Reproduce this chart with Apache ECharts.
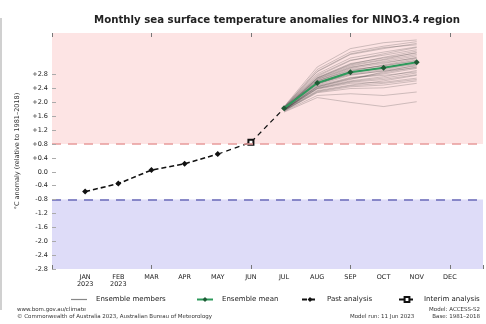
<!DOCTYPE html>
<html>
<head>
<meta charset="utf-8">
<script src="https://cdn.jsdelivr.net/npm/echarts@6/dist/echarts.min.js"></script>
<style>
  html, body { margin: 0; padding: 0; background: #fff; }
  #chart { width: 486px; height: 324px; }
</style>
</head>
<body>
<div id="chart"></div>
<script>
// Axis categories (blank slots pad both ends of the time axis)
const CATEGORIES = ['', 'JAN\n2023', 'FEB\n2023', 'MAR', 'APR', 'MAY', 'JUN', 'JUL', 'AUG', 'SEP', 'OCT', 'NOV', 'DEC', ''];
// Observed monthly anomalies, JAN..MAY
const PAST_MONTHS = ['JAN\n2023', 'FEB\n2023', 'MAR', 'APR', 'MAY'];
const PAST_VALUES = [-0.57, -0.34, 0.05, 0.23, 0.51];
// Interim (preliminary) value for JUN
const INTERIM_MONTH = 'JUN';
const INTERIM_VALUE = 0.85;
// Forecast months and ensemble mean
const FORECAST_MONTHS = ['JUL', 'AUG', 'SEP', 'OCT', 'NOV'];
const MEAN_VALUES = [1.83, 2.56, 2.87, 3.00, 3.16];
// Individual ensemble members, JUL..NOV
const MEMBERS = [
  [1.86, 2.95, 3.45, 3.62, 3.75],
  [1.84, 2.88, 3.38, 3.55, 3.70],
  [1.80, 2.70, 3.10, 3.30, 3.48],
  [1.78, 2.45, 2.70, 2.85, 3.02],
  [1.82, 2.60, 2.95, 3.05, 3.20],
  [1.76, 2.30, 2.45, 2.50, 2.62],
  [1.85, 2.75, 3.20, 3.40, 3.58],
  [1.81, 2.55, 2.82, 2.95, 3.10],
  [1.79, 2.40, 2.60, 2.70, 2.85],
  [1.88, 3.02, 3.55, 3.72, 3.80],
  [1.74, 2.20, 2.25, 2.20, 2.30],
  [1.83, 2.65, 3.00, 3.18, 3.34],
  [1.80, 2.50, 2.78, 2.92, 3.05],
  [1.77, 2.38, 2.55, 2.58, 2.70],
  [1.84, 2.72, 3.12, 3.28, 3.42],
  [1.82, 2.58, 2.90, 3.08, 3.26],
  [1.79, 2.48, 2.72, 2.78, 2.88],
  [1.72, 2.14, 2.00, 1.88, 2.02],
  [1.86, 2.82, 3.28, 3.45, 3.60],
  [1.81, 2.62, 2.98, 3.12, 3.30],
  [1.78, 2.42, 2.62, 2.74, 2.92],
  [1.83, 2.68, 3.05, 3.22, 3.38],
  [1.80, 2.52, 2.85, 3.00, 3.15],
  [1.75, 2.28, 2.40, 2.42, 2.55],
  [1.87, 2.90, 3.40, 3.58, 3.66],
  [1.82, 2.56, 2.88, 2.98, 3.12],
  [1.79, 2.46, 2.68, 2.82, 2.98],
  [1.84, 2.70, 3.08, 3.24, 3.44],
  [1.77, 2.34, 2.50, 2.62, 2.78],
  [1.81, 2.54, 2.80, 2.90, 3.00],
  [1.85, 2.78, 3.22, 3.36, 3.52],
  [1.80, 2.44, 2.66, 2.88, 3.08],
  [1.83, 2.62, 2.92, 3.06, 3.22],
  [1.76, 2.32, 2.48, 2.55, 2.66],
  [1.82, 2.66, 3.02, 3.15, 3.28],
  [1.78, 2.40, 2.58, 2.66, 2.80]
];
// El Niño / La Niña thresholds
const WARM_THRESHOLD = 0.8;
const COOL_THRESHOLD = -0.8;
// Labelled y ticks
const Y_TICKS = [-2.8, -2.4, -2.0, -1.6, -1.2, -0.8, -0.4, 0.0, 0.4, 0.8, 1.2, 1.6, 2.0, 2.4, 2.8];
const Y_MIN = -2.8, Y_MAX = 4.0;

const FONT = 'DejaVu Sans, sans-serif';

function fmtY(v) {
  const s = Math.abs(v).toFixed(1);
  if (Math.abs(v) < 1e-9) return '0.0';
  return (v > 0 ? '+' : '-') + s;
}

const memberSeries = MEMBERS.map(m => ({
  name: 'Ensemble members',
  type: 'line',
  data: FORECAST_MONTHS.map((c, i) => [c, m[i]]),
  symbol: 'none',
  silent: true,
  z: 2,
  lineStyle: { color: 'rgba(40,40,40,0.32)', width: 0.7 },
  itemStyle: { color: '#999' }
}));

// quarterly ticks (MAR, JUN, SEP, DEC) on top and bottom edges
const quarterTick = { show: true, inside: true, length: 4, interval: 2, lineStyle: { color: '#777' } };

const chart = echarts.init(document.getElementById('chart'), null, { renderer: 'canvas' });
chart.setOption({
  animation: false,
  backgroundColor: '#fff',
  title: {
    text: 'Monthly sea surface temperature anomalies for NINO3.4 region',
    left: 89, top: 10,
    textStyle: { fontFamily: FONT, fontSize: 10.2, fontWeight: 'bold', color: '#222' }
  },
  grid: { left: 52, right: -13, top: 33, bottom: 55, containLabel: false },
  xAxis: [{
    type: 'category', data: CATEGORIES, boundaryGap: false, position: 'bottom', z: 5,
    axisLine: { show: false, onZero: false },
    axisTick: quarterTick,
    axisLabel: { interval: 0, fontFamily: FONT, fontSize: 6.5, color: '#222', lineHeight: 7, margin: 5 },
    splitLine: { show: false }
  }, {
    type: 'category', data: CATEGORIES, boundaryGap: false, position: 'top', z: 5,
    axisLine: { show: false, onZero: false },
    axisTick: quarterTick,
    axisLabel: { show: false }
  }],
  yAxis: {
    type: 'value', min: Y_MIN, max: Y_MAX, interval: 0.4, z: 5,
    name: '°C anomaly (relative to 1981–2018)', nameLocation: 'middle', nameGap: 31,
    nameRotate: 90,
    nameTextStyle: { fontFamily: FONT, fontSize: 6.5, color: '#333' },
    axisLine: { show: false },
    axisTick: { show: true, inside: true, length: 4, customValues: Y_TICKS, lineStyle: { color: '#aaa' } },
    axisLabel: { customValues: Y_TICKS, formatter: fmtY, fontFamily: FONT, fontSize: 6.5, color: '#222', margin: 4 },
    splitLine: { show: false }
  },
  legend: [
    { data: [{ name: 'Ensemble members', icon: 'rect', itemStyle: { color: '#888' } }], left: 66, top: 291, itemHeight: 1.2 },
    { data: ['Ensemble mean'], left: 191, top: 291 },
    { data: ['Past analysis'], left: 296, top: 291 },
    { data: ['Interim analysis'], left: 393, top: 291 }
  ].map(l => Object.assign({
    itemWidth: 16, itemHeight: 6, itemGap: 0,
    textStyle: { fontFamily: FONT, fontSize: 7, color: '#222', padding: [0, 0, 0, 4] }
  }, l)),
  graphic: [
    { type: 'line', shape: { x1: 1, y1: 18, x2: 1, y2: 310 }, style: { stroke: '#c0c0c0', lineWidth: 1.5 } },
    { type: 'text', left: 17, top: 307, style: { text: 'www.bom.gov.au/climate', fontFamily: FONT, fontSize: 5.5, fill: '#333' } },
    { type: 'text', left: 17, top: 314, style: { text: '© Commonwealth of Australia 2023, Australian Bureau of Meteorology', fontFamily: FONT, fontSize: 5.5, fill: '#333' } },
    { type: 'text', right: 6, top: 307, style: { text: 'Model: ACCESS-S2', fontFamily: FONT, fontSize: 5.5, fill: '#333', align: 'right' } },
    { type: 'text', left: 350, top: 314, style: { text: 'Model run: 11 Jun 2023', fontFamily: FONT, fontSize: 5.5, fill: '#333' } },
    { type: 'text', right: 6, top: 314, style: { text: 'Base: 1981–2018', fontFamily: FONT, fontSize: 5.5, fill: '#333', align: 'right' } }
  ],
  series: [
    {
      // background bands and threshold lines
      name: 'bands', type: 'line', data: [], silent: true, z: 1,
      markArea: {
        silent: true,
        data: [
          [{ yAxis: WARM_THRESHOLD, itemStyle: { color: '#fde4e4' } }, { yAxis: Y_MAX }],
          [{ yAxis: Y_MIN, itemStyle: { color: '#dedcf8' } }, { yAxis: COOL_THRESHOLD }]
        ]
      },
      markLine: {
        silent: true, symbol: 'none', label: { show: false },
        data: [
          { yAxis: WARM_THRESHOLD, lineStyle: { color: '#e89a9a', type: [9, 7], width: 1.5 } },
          { yAxis: COOL_THRESHOLD, lineStyle: { color: '#6a6ab8', type: [9, 7], width: 1.5 } }
        ]
      }
    },
    ...memberSeries,
    {
      name: 'Interim analysis', type: 'line', z: 4,
      data: [
        { value: [PAST_MONTHS[PAST_MONTHS.length - 1], PAST_VALUES[PAST_VALUES.length - 1]], symbol: 'none' },
        { value: [INTERIM_MONTH, INTERIM_VALUE], symbol: 'emptyRect', symbolSize: 5 },
        { value: [FORECAST_MONTHS[0], MEAN_VALUES[0]], symbol: 'none' }
      ],
      symbol: 'emptyRect', symbolSize: 5,
      lineStyle: { color: '#111', width: 1.2, type: [5, 4] },
      itemStyle: { color: '#111', borderWidth: 1 }
    },
    {
      name: 'Past analysis', type: 'line', z: 5,
      data: PAST_MONTHS.map((c, i) => [c, PAST_VALUES[i]]),
      symbol: 'diamond', symbolSize: 6,
      lineStyle: { color: '#111', width: 1.6, type: [5, 3] },
      itemStyle: { color: '#111' }
    },
    {
      name: 'Ensemble mean', type: 'line', z: 6,
      data: FORECAST_MONTHS.map((c, i) => [c, MEAN_VALUES[i]]),
      symbol: 'diamond', symbolSize: 6,
      lineStyle: { color: '#2e9a5c', width: 2 },
      itemStyle: { color: '#1f5a35' }
    }
  ]
});
</script>
</body>
</html>
